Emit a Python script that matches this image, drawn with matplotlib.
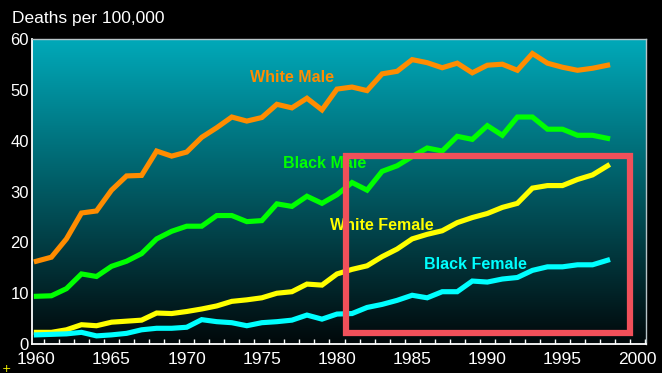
import numpy as np
import matplotlib
matplotlib.use("Agg")
import matplotlib.pyplot as plt
from matplotlib.colors import LinearSegmentedColormap
from matplotlib.patches import Rectangle

years = list(range(1960, 1999))

white_male = [16.3, 17.1, 20.7, 25.8, 26.2, 30.3, 33.1, 33.2, 38.0, 37.0,
              37.8, 40.7, 42.6, 44.7, 43.9, 44.6, 47.2, 46.5, 48.4, 46.1,
              50.2, 50.6, 49.9, 53.2, 53.7, 56.0, 55.4, 54.4, 55.3, 53.4,
              54.9, 55.1, 53.9, 57.2, 55.3, 54.5, 53.9, 54.3, 54.9]
black_male = [9.4, 9.5, 10.9, 13.8, 13.3, 15.3, 16.3, 17.8, 20.7, 22.2,
              23.2, 23.2, 25.3, 25.3, 24.1, 24.3, 27.6, 27.1, 29.1, 27.7,
              29.4, 31.8, 30.3, 34.0, 35.1, 36.9, 38.6, 38.0, 40.9, 40.3,
              43.0, 41.1, 44.7, 44.7, 42.3, 42.3, 41.1, 41.1, 40.5]
white_female = [2.3, 2.3, 2.8, 3.8, 3.6, 4.3, 4.5, 4.7, 6.1, 6.0,
                6.4, 6.9, 7.5, 8.4, 8.7, 9.1, 10.0, 10.3, 11.8, 11.6,
                13.8, 14.7, 15.4, 17.2, 18.7, 20.7, 21.6, 22.3, 23.9, 24.9,
                25.7, 26.9, 27.7, 30.7, 31.2, 31.2, 32.4, 33.3, 35.1]
black_female = [1.8, 1.9, 2.0, 2.3, 1.6, 1.8, 2.1, 2.8, 3.1, 3.1,
                3.3, 4.8, 4.4, 4.2, 3.6, 4.2, 4.4, 4.7, 5.7, 4.9,
                5.9, 6.0, 7.2, 7.8, 8.6, 9.6, 9.1, 10.3, 10.3, 12.4,
                12.2, 12.8, 13.1, 14.5, 15.2, 15.2, 15.6, 15.6, 16.5]

series = [
    ("White Male", white_male, "#FF8C00", 1977.0, 52.4),
    ("Black Male", black_male, "#00FF00", 1979.2, 35.6),
    ("White Female", white_female, "#FFFF00", 1983.0, 23.3),
    ("Black Female", black_female, "#00FFFF", 1989.2, 15.6),
]

fig = plt.figure(figsize=(6.62, 3.73), dpi=100, facecolor="black")
ax = fig.add_axes([0.0479, 0.0777, 0.928, 0.8169])
ax.set_facecolor("black")
x0, x1 = 1959.69, 2000.56
ax.set_xlim(x0, x1)
ax.set_ylim(0, 60)

# teal-to-black gradient background
cmap = LinearSegmentedColormap.from_list("bg", ["#02080a", "#00a9b9"])
grad = np.linspace(0, 1, 256).reshape(-1, 1)
ax.imshow(grad, cmap=cmap, aspect="auto", extent=[x0, x1, 0, 60],
          origin="lower", zorder=0)

for name, vals, color, lx, ly in series:
    ax.plot(years, vals, color=color, lw=3.7, solid_joinstyle="miter", zorder=3)
    ax.text(lx, ly, name, color=color, fontsize=11.5, fontweight="bold",
            family="Liberation Sans", ha="center", va="center", zorder=4)

ax.add_patch(Rectangle((1980.58, 2.1), 18.89, 35.0, fill=False,
                       edgecolor="#F0505A", lw=4.5, zorder=5))

for side in ["left", "bottom"]:
    ax.spines[side].set_color("white")
    ax.spines[side].set_linewidth(1.3)
for side in ["top", "right"]:
    ax.spines[side].set_color("#b8c4c8")
    ax.spines[side].set_linewidth(1.0)

ax.set_xticks(range(1960, 2001, 5))
ax.set_xticks(np.arange(1960.5, 2000.6, 1), minor=True)
ax.set_yticks(range(0, 61, 10))
ax.tick_params(axis="x", which="major", length=0, pad=6)
ax.tick_params(axis="x", which="minor", direction="in", length=3.5,
               color="white", width=1)
ax.tick_params(axis="y", length=0, pad=2)
for lab in ax.get_xticklabels() + ax.get_yticklabels():
    lab.set_color("white")
    lab.set_fontsize(12.5)
    lab.set_family("Liberation Sans")
for lab in ax.get_yticklabels():
    lab.set_fontsize(12)

fig.text(12 / 662, 1 - 19 / 373, "Deaths per 100,000", color="white",
         fontsize=12.5, family="Liberation Sans", ha="left", va="center")
fig.text(6 / 662, 1 - 369 / 373, "+", color="#FFFF00", fontsize=8,
         ha="center", va="center")

fig.savefig("out.png", dpi=100, facecolor="black")
